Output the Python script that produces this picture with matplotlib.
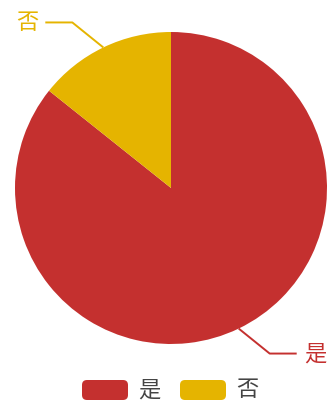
import numpy as np
import matplotlib.pyplot as plt
from matplotlib.patches import FancyBboxPatch

plt.rcParams['font.family'] = ['Noto Sans CJK SC', 'DejaVu Sans']

# ---- Données ---- #
categories = ['是', '否']
valeurs = [36, 6]
couleurs = ['#c4302f', '#e5b400']

W, H = 327, 409
fig = plt.figure(figsize=(W / 100, H / 100), dpi=100)
ax = fig.add_axes([0, 0, 1, 1])

cx, cy, R = 171, H - 188, 156
wedges, _ = ax.pie(valeurs, colors=couleurs, startangle=90, counterclock=False,
                   center=(cx, cy), radius=R, frame=True,
                   wedgeprops=dict(linewidth=0))
ax.set_xlim(0, W)
ax.set_ylim(0, H)
ax.set_aspect('equal')
ax.axis('off')

# Lignes d'étiquettes
for w, nom, c in zip(wedges, categories, couleurs):
    ang = np.deg2rad((w.theta1 + w.theta2) / 2)
    sx, sy = np.sign(np.cos(ang)), np.sign(np.sin(ang))
    x0, y0 = cx + R * np.cos(ang), cy + R * np.sin(ang)
    x1, y1 = x0 + sx * 31, y0 + sy * 25
    x2 = x1 + sx * 27
    ax.plot([x0, x1, x2], [y0, y1, y1], color=c, lw=1.4, solid_capstyle='butt')
    ax.text(x2 + sx * 7, y1, nom, color=c, fontsize=16,
            ha='left' if sx > 0 else 'right', va='center')

# Légende
lx = [82, 180]
for x, nom, c in zip(lx, categories, couleurs):
    ax.add_patch(FancyBboxPatch((x, H - 400), 46, 20,
                                boxstyle='round,pad=0,rounding_size=5',
                                facecolor=c, edgecolor='none'))
    ax.text(x + 56, H - 390, nom, color='#444444', fontsize=16,
            ha='left', va='center')

fig.savefig('out.png', dpi=100)
